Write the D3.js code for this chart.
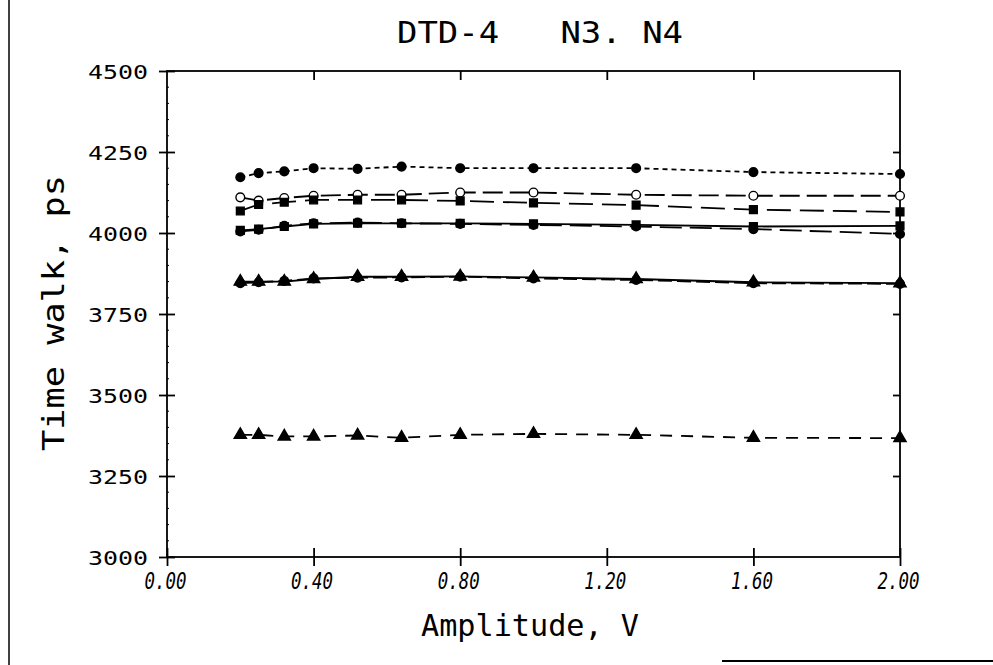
<!DOCTYPE html>
<html>
<head>
<meta charset="utf-8">
<script src="https://cdn.jsdelivr.net/npm/d3@7"></script>
<style>
  body { margin: 0; background: #fff; }
  svg text { font-family: "DejaVu Sans Mono", monospace; fill: #000; }
</style>
</head>
<body>
<div class="main"></div>
<script>
// amplitude values (V) where each curve was measured
const amplitude = [0.2, 0.25, 0.32, 0.4, 0.52, 0.64, 0.8, 1.0, 1.28, 1.6, 2.0];

// time walk (ps) for each curve
const walkShortDash = [4172, 4185, 4190, 4200, 4198, 4205, 4200, 4200, 4200, 4188, 4182];
const walkOpenCircle = [4110, 4100, 4108, 4115, 4118, 4118, 4125, 4125, 4118, 4115, 4115];
const walkSquare = [4068, 4088, 4095, 4102, 4102, 4102, 4099, 4093, 4086, 4072, 4065];
const walkSolidUpper = [4008, 4012, 4020, 4028, 4030, 4030, 4030, 4028, 4025, 4020, 4022];
const walkDashUpper = [4005, 4010, 4022, 4030, 4032, 4030, 4028, 4025, 4020, 4012, 3997];
const walkSolidLower = [3850, 3850, 3850, 3858, 3865, 3865, 3866, 3863, 3858, 3848, 3845];
const walkDashLower = [3845, 3848, 3852, 3860, 3862, 3863, 3865, 3860, 3855, 3845, 3843];
const walkBottom = [3377, 3377, 3372, 3372, 3375, 3368, 3377, 3380, 3377, 3368, 3367];

const xTicks = [0, 0.4, 0.8, 1.2, 1.6, 2.0];
const yTicks = [3000, 3250, 3500, 3750, 4000, 4250, 4500];

const curves = [
    { values: walkShortDash, dash: "5,4", marker: "circle", fill: "#000" },
    { values: walkOpenCircle, dash: "20,7", marker: "circle", fill: "#fff" },
    { values: walkSquare, dash: "24,9", marker: "square", fill: "#000" },
    { values: walkSolidUpper, dash: null, marker: "square", fill: "#000" },
    { values: walkDashUpper, dash: "22,8", marker: "circle", fill: "#000" },
    { values: walkSolidLower, dash: null, marker: "triangle", fill: "#000" },
    { values: walkDashLower, dash: "14,5", marker: "circle", fill: "#000" },
    { values: walkBottom, dash: "12,9", marker: "triangle", fill: "#000" },
];

let width = 993;
let height = 665;

let svg = d3.select(".main").append("svg")
    .attr("width", width)
    .attr("height", height);

let x = d3.scaleLinear().domain([0, 2]).range([167, 900]);
let y = d3.scaleLinear().domain([3000, 4500]).range([557, 71]);

// page border marks from the scan
svg.append("line").attr("x1", 9).attr("x2", 9).attr("y1", 0).attr("y2", 665)
    .attr("stroke", "#000").attr("stroke-width", 1.5);
svg.append("line").attr("x1", 722).attr("x2", 993).attr("y1", 661).attr("y2", 661)
    .attr("stroke", "#000").attr("stroke-width", 2);

// frame
svg.append("rect")
    .attr("x", x(0)).attr("y", y(4500))
    .attr("width", x(2) - x(0)).attr("height", y(3000) - y(4500))
    .attr("fill", "none").attr("stroke", "#000").attr("stroke-width", 1.8);

// left axis, ticks cross the line
let yAxis = svg.append("g").attr("transform", `translate(${x(0)},0)`)
    .call(d3.axisLeft(y).tickValues(yTicks).tickSize(0).tickFormat(""));
yAxis.select(".domain").remove();
yAxis.selectAll(".tick line").attr("x1", -8).attr("x2", 8).attr("stroke-width", 1.8);

// minor ticks
svg.append("g").selectAll("line")
    .data(d3.range(3050, 4500, 50).filter(v => v % 250 !== 0))
    .enter().append("line")
    .attr("x1", x(0)).attr("x2", x(0) + 2)
    .attr("y1", d => y(d)).attr("y2", d => y(d))
    .attr("stroke", "#000").attr("stroke-width", 1);

yAxis.selectAll(".tick").append("text")
    .attr("x", -19).attr("y", 7)
    .attr("text-anchor", "end")
    .attr("font-size", 20)
    .attr("textLength", 60).attr("lengthAdjust", "spacingAndGlyphs")
    .text(d => d);

// right axis, inward ticks
svg.append("g").attr("transform", `translate(${x(2)},0)`)
    .call(d3.axisLeft(y).tickValues(yTicks.slice(1, -1)).tickSize(7).tickFormat(""))
    .call(g => g.select(".domain").remove())
    .selectAll(".tick line").attr("stroke-width", 1.8);

// bottom axis, ticks cross
let xAxis = svg.append("g").attr("transform", `translate(0,${y(3000)})`)
    .call(d3.axisBottom(x).tickValues(xTicks).tickSize(0).tickFormat(""));
xAxis.select(".domain").remove();
xAxis.selectAll(".tick line").attr("y1", -9).attr("y2", 9).attr("stroke-width", 1.8);
xAxis.selectAll(".tick").append("text")
    .attr("x", -2).attr("y", 32)
    .attr("text-anchor", "middle")
    .attr("font-size", 23)
    .attr("font-style", "italic")
    .attr("textLength", 42).attr("lengthAdjust", "spacingAndGlyphs")
    .text(d => d3.format(".2f")(d));

// top axis, inward ticks
svg.append("g").attr("transform", `translate(0,${y(4500)})`)
    .call(d3.axisTop(x).tickValues(xTicks.slice(1, -1)).tickSize(-9).tickFormat(""))
    .call(g => g.select(".domain").remove())
    .selectAll(".tick line").attr("stroke-width", 1.8);

// curves
let line = d3.line()
    .x((d, i) => x(amplitude[i]))
    .y(d => y(d));

curves.forEach(c => {
    svg.append("path")
        .datum(c.values)
        .attr("d", line)
        .attr("fill", "none")
        .attr("stroke", "#000")
        .attr("stroke-width", 1.8)
        .attr("stroke-dasharray", c.dash);

    let sym = c.marker === "square" ? d3.symbolSquare
        : c.marker === "triangle" ? d3.symbolTriangle : d3.symbolCircle;
    let size = c.marker === "triangle" ? 65 : 60;

    svg.append("g").selectAll("path")
        .data(c.values)
        .enter().append("path")
        .attr("transform", (d, i) => `translate(${x(amplitude[i])},${y(d)})`)
        .attr("d", d3.symbol().type(sym).size(size))
        .attr("fill", c.fill)
        .attr("stroke", "#000")
        .attr("stroke-width", 1.4);
});

// titles
svg.append("text")
    .attr("x", 540).attr("y", 43)
    .attr("text-anchor", "middle")
    .attr("font-size", 30)
    .attr("textLength", 286).attr("lengthAdjust", "spacingAndGlyphs")
    .attr("xml:space", "preserve")
    .text("DTD-4   N3. N4");

svg.append("text")
    .attr("x", 530).attr("y", 636)
    .attr("text-anchor", "middle")
    .attr("font-size", 30)
    .attr("textLength", 218).attr("lengthAdjust", "spacingAndGlyphs")
    .text("Amplitude, V");

svg.append("text")
    .attr("transform", "translate(64,313) rotate(-90)")
    .attr("text-anchor", "middle")
    .attr("font-size", 30)
    .attr("textLength", 276).attr("lengthAdjust", "spacingAndGlyphs")
    .text("Time walk, ps");
</script>
</body>
</html>
